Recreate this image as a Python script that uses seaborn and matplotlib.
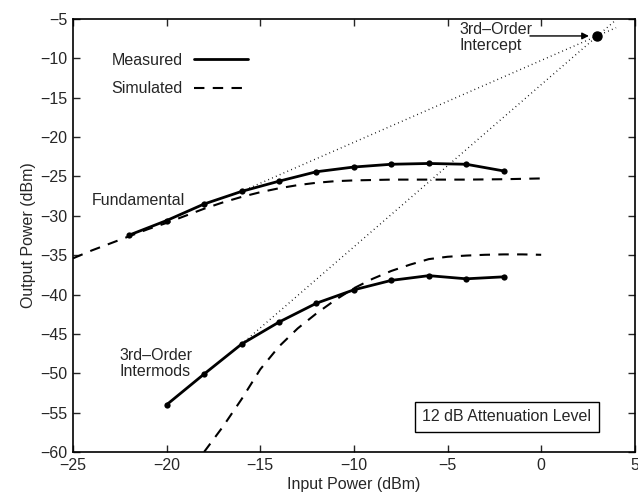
import matplotlib
matplotlib.use("Agg")
import matplotlib.pyplot as plt
import seaborn as sns
import pandas as pd
from matplotlib.lines import Line2D

# Measured two-tone response (dBm)
meas_fund_in = [-22, -20, -18, -16, -14, -12, -10, -8, -6, -4, -2]
meas_fund_out = [-32.45, -30.6, -28.5, -26.9, -25.6, -24.4, -23.8, -23.45, -23.35, -23.45, -24.3]
meas_im3_in = [-20, -18, -16, -14, -12, -10, -8, -6, -4, -2]
meas_im3_out = [-54.0, -50.1, -46.3, -43.5, -41.1, -39.4, -38.2, -37.6, -38.0, -37.75]

# Simulated response (dBm)
sim_fund_in = [-25, -24, -23, -22, -21, -20, -19, -18, -17, -16, -15, -14, -13, -12,
               -11, -10, -8, -6, -4, -2, 0]
sim_fund_out = [-35.4, -34.4, -33.5, -32.6, -31.7, -30.9, -30.0, -29.1, -28.3, -27.6,
                -27.0, -26.5, -26.1, -25.8, -25.6, -25.5, -25.4, -25.4, -25.4, -25.35, -25.25]
sim_im3_in = [-18, -17, -16, -15, -14, -13, -12, -11, -10, -9, -8, -7, -6, -5, -4,
              -3, -2, -1, 0]
sim_im3_out = [-60.0, -56.8, -53.3, -49.5, -46.6, -44.3, -42.4, -40.7, -39.2, -38.0,
               -37.0, -36.2, -35.5, -35.2, -35.05, -34.95, -34.9, -34.9, -34.95]

# Extrapolated slopes meeting at the third-order intercept
intercept_in, intercept_out = 3.0, -7.2
ext_fund_in = [-16, 4]
ext_fund_out = [-26.9, -6.1]
ext_im3_in = [-16, 4]
ext_im3_out = [-46.3, -5.1]

x_ticks = [-25, -20, -15, -10, -5, 0, 5]
y_ticks = [-60, -55, -50, -45, -40, -35, -30, -25, -20, -15, -10, -5]

sns.set_theme(style="ticks")
plt.rcParams["font.family"] = ["Liberation Sans", "DejaVu Sans"]
plt.rcParams["axes.unicode_minus"] = True

fig = plt.figure(figsize=(6.38, 4.98), dpi=100)
ax = fig.add_axes([0.1144, 0.0924, 0.8806, 0.8694])

fs = 11.5
dash = (5, 4)

meas_f = pd.DataFrame({"pin": meas_fund_in, "pout": meas_fund_out})
meas_i = pd.DataFrame({"pin": meas_im3_in, "pout": meas_im3_out})
sim_f = pd.DataFrame({"pin": sim_fund_in, "pout": sim_fund_out})
sim_i = pd.DataFrame({"pin": sim_im3_in, "pout": sim_im3_out})

for df in (sim_f, sim_i):
    sns.lineplot(data=df, x="pin", y="pout", ax=ax, color="black", lw=1.5,
                 dashes=False, linestyle=(0, dash), sort=False, estimator=None)
for df in (meas_f, meas_i):
    sns.lineplot(data=df, x="pin", y="pout", ax=ax, color="black", lw=2.0,
                 marker="o", markersize=4.5, markeredgewidth=0, sort=False,
                 estimator=None)

ax.plot(ext_fund_in, ext_fund_out, color="black", lw=1.0, linestyle=(0, (0.6, 2.4)))
ax.plot(ext_im3_in, ext_im3_out, color="black", lw=1.0, linestyle=(0, (0.6, 2.4)))
ax.plot([intercept_in], [intercept_out], "o", color="black", markersize=6.5)

ax.set_xlim(-25, 5)
ax.set_ylim(-60, -5)
ax.set_xticks(x_ticks)
ax.set_yticks(y_ticks)
ax.tick_params(direction="in", top=True, right=True, labeltop=False,
               labelright=False, length=5, width=1, labelsize=fs, pad=4)
for s in ax.spines.values():
    s.set_linewidth(1.2)
    s.set_color("black")

ax.set_xlabel("Input Power (dBm)", fontsize=fs, labelpad=3)
ax.set_ylabel("Output Power (dBm)", fontsize=fs, labelpad=3)

handles = [Line2D([], [], color="black", lw=2.0),
           Line2D([], [], color="black", lw=1.5, linestyle=(0, dash))]
ax.legend(handles, ["Measured", "Simulated"], loc="upper left",
          bbox_to_anchor=(0.0425, 0.955), frameon=False, markerfirst=False,
          handlelength=3.38, handletextpad=0.75, labelspacing=0.85, fontsize=fs)

ax.text(-24.0, -28.0, "Fundamental", fontsize=fs, va="center", ha="left")
ax.text(-22.5, -48.8, "3rd–Order\nIntermods", fontsize=fs, va="center", ha="left",
        linespacing=1.1)
ax.text(-4.35, -5.4, "3rd–Order\nIntercept", fontsize=fs, va="top", ha="left",
        linespacing=1.1)
ax.annotate("", xy=(2.55, -7.15), xytext=(-0.6, -7.15),
            arrowprops=dict(arrowstyle="-|>", color="black", lw=1.0,
                            mutation_scale=10, shrinkA=0, shrinkB=0))
ax.text(-1.83, -55.55, "12 dB Attenuation Level", fontsize=fs, ha="center",
        va="center",
        bbox=dict(boxstyle="square,pad=0.45", fc="white", ec="black", lw=1.0))

fig.savefig("out.png", dpi=100)
